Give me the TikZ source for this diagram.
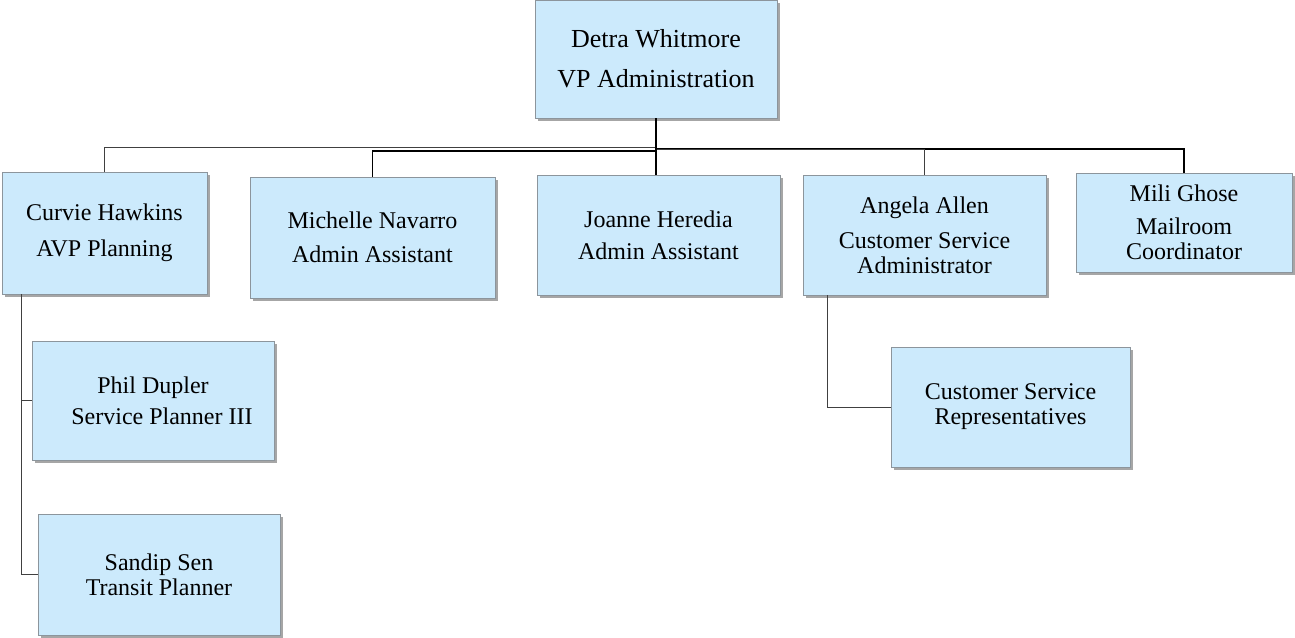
\documentclass[tikz,border=0pt]{standalone}
\usepackage{fontspec}
\setmainfont{Liberation Serif}
\usepackage{xcolor}
\usetikzlibrary{shadows}

\definecolor{boxblue}{HTML}{CCEAFC}
\definecolor{boxline}{HTML}{8C959C}

\begin{document}
\begin{tikzpicture}[x=1pt, y=1pt,
    staff/.style = {shape=rectangle, draw=boxline, fill=boxblue,
      align=center, inner sep=0pt,
      font=\fontsize{24}{25}\selectfont,
      drop shadow={shadow xshift=2.5pt, shadow yshift=-2.5pt,
        fill=black, opacity=0.35}},
    link/.style = {draw=black!75, line width=0.8pt},
    mainlink/.style = {draw=black, line width=1.6pt}]
    \useasboundingbox (0,0) rectangle (1295,-637);
    % top of the chart
    \node[staff, minimum width=242, minimum height=118,
      font=\fontsize{26}{27}\selectfont] (detra) at (656,-59)
      {Detra Whitmore\\[13pt]VP Administration};
    % direct reports
    \node[staff, minimum width=205, minimum height=122] (curvie) at (104.5,-233)
      {Curvie Hawkins\\[11pt]AVP Planning};
    \node[staff, minimum width=245, minimum height=121] (michelle) at (372.5,-237.5)
      {Michelle Navarro\\[9pt]Admin Assistant};
    \node[staff, minimum width=243, minimum height=120] (joanne) at (658.5,-235)
      {Joanne Heredia\\[7pt]Admin Assistant};
    \node[staff, minimum width=243, minimum height=120] (angela) at (924.5,-235)
      {Angela Allen\\[10pt]Customer Service\\Administrator};
    \node[staff, minimum width=216, minimum height=99] (mili) at (1184,-222.5)
      {Mili Ghose\\[8pt]Mailroom\\Coordinator};
    % second level
    \node[staff, minimum width=242, minimum height=119] (phil) at (153,-400.5)
      {Phil Dupler\\[6pt]\hspace*{18pt}Service Planner III};
    \node[staff, minimum width=242, minimum height=121] (sandip) at (159,-574.5)
      {Sandip Sen\\Transit Planner};
    \node[staff, minimum width=239, minimum height=120] (csr) at (1010.5,-407)
      {Customer Service\\Representatives};
    % connectors
    \coordinate (tierA) at (657,-147);
    \coordinate (tierB) at (657,-151);
    \coordinate (tierC) at (657,-149);
    \draw[link] (curvie.north) |- (tierA);
    \draw[mainlink] (michelle.north) |- (tierB);
    \draw[mainlink] (tierC) -| (mili.north);
    \draw[link] (tierC) -| (angela.north);
    \draw[mainlink] (detra.south) -- (detra.south |- joanne.north);
    \draw[link] ([xshift=20pt]curvie.south west) |- (phil.west);
    \draw[link] ([xshift=20pt]curvie.south west) |- (sandip.west);
    \draw[link] ([xshift=25pt]angela.south west) |- (csr.west);
  \end{tikzpicture}
\end{document}
